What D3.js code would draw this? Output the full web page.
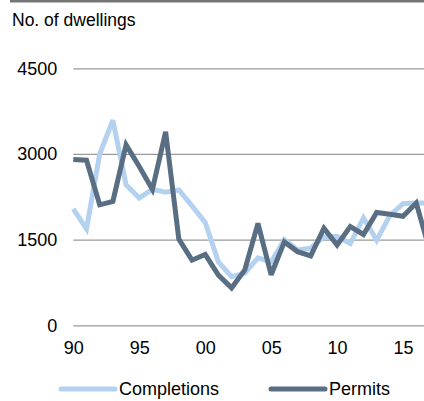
<!DOCTYPE html>
<html>
<head>
<meta charset="utf-8">
<script src="https://cdn.jsdelivr.net/npm/d3@7"></script>
<style>
  html, body { margin: 0; padding: 0; background: #fff; }
  svg { display: block; font-family: "Liberation Sans", Arial, sans-serif; }
</style>
</head>
<body>
<svg id="chart" width="424" height="401"></svg>
<script>
const years = [1990,1991,1992,1993,1994,1995,1996,1997,1998,1999,2000,2001,2002,2003,2004,2005,2006,2007,2008,2009,2010,2011,2012,2013,2014,2015,2016,2017];
const completions = [2040,1690,3000,3590,2460,2230,2380,2330,2370,2090,1800,1110,850,910,1180,1110,1500,1320,1350,1550,1560,1430,1880,1490,1920,2130,2140,2140];
const permits = [2905,2890,2110,2170,3160,2780,2380,3390,1510,1140,1240,880,655,970,1785,885,1460,1290,1215,1700,1405,1730,1590,1975,1945,1910,2140,1330];
const yTicks = [0,1500,3000,4500];
const xTicks = [1990,1995,2000,2005,2010,2015];
const xTickLabels = ["90","95","00","05","10","15"];
const seriesNames = ["Completions","Permits"];
const seriesColors = ["#b4d2f0","#596e83"];
const titleText = "No. of dwellings";

const svg = d3.select("#chart");
const W = 424, H = 401;
const left = 73.3, pxPerYear = 13.19;
const x = d3.scaleLinear().domain([1990, 2017]).range([left, left + 27 * pxPerYear]);
const y = d3.scaleLinear().domain([0, 4500]).range([325.3, 68.3]);
const titleSize = "17.5px";
const fontSize = "18px";

// top border
svg.append("rect").attr("x", 10).attr("y", 0).attr("width", W - 10).attr("height", 2.5).attr("fill", "#767676");

// title
svg.append("text").attr("x", 12).attr("y", 26).attr("font-size", titleSize).attr("fill", "#000").text(titleText);

// gridlines + y labels
const yAxis = d3.axisLeft(y).tickValues(yTicks).tickSize(-(W - left)).tickFormat(d3.format("d"));
const gy = svg.append("g").attr("transform", `translate(${left},0)`).call(yAxis);
gy.select(".domain").remove();
gy.selectAll(".tick line").attr("stroke", "#9a9a9a").attr("stroke-width", 1.2);
gy.selectAll(".tick text").attr("x", -16).attr("font-size", fontSize).attr("fill", "#000").attr("font-family", "Liberation Sans, Arial, sans-serif");

// x labels
const xAxis = d3.axisBottom(x).tickValues(xTicks).tickSize(0).tickFormat((d, i) => xTickLabels[i]);
const gx = svg.append("g").attr("transform", `translate(0,${y(0)})`).call(xAxis);
gx.select(".domain").remove();
gx.selectAll(".tick text").attr("y", 16).attr("dy", "0.71em").attr("font-size", fontSize).attr("fill", "#000").attr("font-family", "Liberation Sans, Arial, sans-serif");

// lines
svg.append("clipPath").attr("id", "plotclip").append("rect").attr("x", 0).attr("y", 0).attr("width", W).attr("height", H);
const line = d3.line().x((d, i) => x(years[i])).y(d => y(d));
const seriesData = [completions, permits];
seriesData.forEach((s, k) => {
  svg.append("path").datum(s)
    .attr("clip-path", "url(#plotclip)")
    .attr("fill", "none")
    .attr("stroke", seriesColors[k])
    .attr("stroke-width", 5)
    .attr("stroke-linejoin", "miter")
    .attr("stroke-miterlimit", 3)
    .attr("d", line);
});

// legend
const legendX = [61, 271];
const legY = 389;
seriesNames.forEach((name, k) => {
  svg.append("line").attr("x1", legendX[k]).attr("x2", legendX[k] + 54).attr("y1", legY).attr("y2", legY)
    .attr("stroke", seriesColors[k]).attr("stroke-width", 5).attr("stroke-linecap", "round");
  svg.append("text").attr("x", legendX[k] + 58).attr("y", legY + 6).attr("font-size", fontSize).attr("fill", "#000").text(name);
});
</script>
</body>
</html>
